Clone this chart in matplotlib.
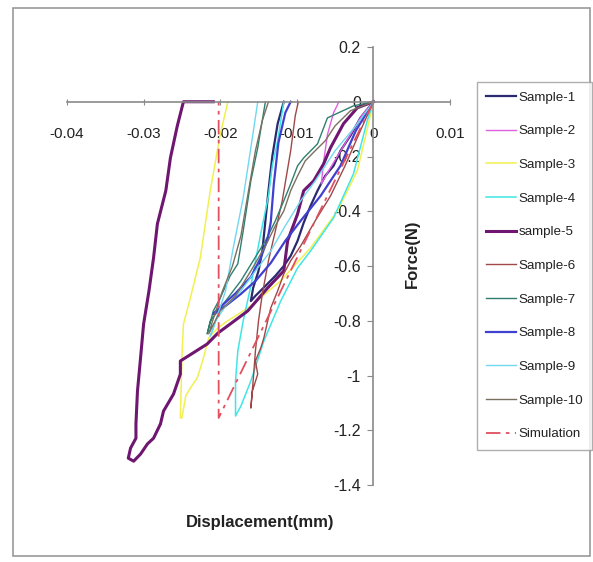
import matplotlib
matplotlib.use('Agg')
import matplotlib.pyplot as plt
from matplotlib.patches import Rectangle

plt.rcParams['font.family'] = ['Liberation Sans Narrow', 'Liberation Sans', 'DejaVu Sans']
plt.rcParams['axes.unicode_minus'] = False

# displacement (mm) / force (N) traces
s1_x = [0, -0.0017, -0.0030, -0.0043, -0.0052, -0.0063, -0.0073, -0.0082, -0.0091, -0.0099, -0.0108, -0.0117,
        -0.0128, -0.0141, -0.0154, -0.0160, -0.0157, -0.0150, -0.0145, -0.0141, -0.0137, -0.0132, -0.0125, -0.0117]
s1_y = [0, -0.059, -0.124, -0.179, -0.234, -0.271, -0.325, -0.380, -0.442, -0.508, -0.563, -0.600,
        -0.636, -0.673, -0.709, -0.728, -0.680, -0.618, -0.545, -0.435, -0.325, -0.200, -0.080, 0]

s2_x = [0, -0.0015, -0.0030, -0.0045, -0.0058, -0.0068, -0.0065, -0.0060, -0.0052, -0.0045]
s2_y = [0, -0.05, -0.12, -0.19, -0.25, -0.30, -0.22, -0.12, -0.04, 0]

s3_x = [0, -0.0008, -0.0021, -0.0047, -0.0082, -0.0121, -0.0160, -0.0190, -0.0203, -0.0215, -0.0223, -0.0230,
        -0.0239, -0.0245, -0.0250, -0.0252, -0.0250, -0.0248, -0.0239, -0.0226, -0.0213, -0.0200, -0.0190]
s3_y = [0, -0.10, -0.252, -0.399, -0.534, -0.654, -0.746, -0.800, -0.826, -0.863, -0.947, -1.009,
        -1.046, -1.075, -1.155, -1.155, -0.936, -0.812, -0.717, -0.570, -0.325, -0.12, 0]

s4_x = [0, -0.0008, -0.0026, -0.0052, -0.0082, -0.0099, -0.0121, -0.0143, -0.0160, -0.0173, -0.0180,
        -0.0180, -0.0177, -0.0170, -0.0160, -0.0154, -0.0145, -0.0137, -0.0132, -0.0125, -0.0117]
s4_y = [0, -0.069, -0.263, -0.424, -0.545, -0.607, -0.728, -0.874, -1.020, -1.112, -1.148,
        -1.020, -0.910, -0.801, -0.673, -0.581, -0.453, -0.344, -0.234, -0.143, 0]

s5_x = [0, -0.0021, -0.0039, -0.0056, -0.0065, -0.0078, -0.0091, -0.0099, -0.0112, -0.0117, -0.0138, -0.0164,
        -0.0187, -0.0203, -0.0217, -0.0252, -0.0252, -0.0261, -0.0274, -0.0278, -0.0287, -0.0295, -0.0304,
        -0.0313, -0.0320, -0.0317, -0.0310, -0.0310, -0.0308, -0.0304, -0.0300, -0.0293, -0.0287, -0.0282,
        -0.0271, -0.0265, -0.0256, -0.0248, -0.0209]
s5_y = [0, -0.022, -0.080, -0.168, -0.227, -0.289, -0.325, -0.410, -0.508, -0.618, -0.680, -0.764,
        -0.812, -0.845, -0.885, -0.947, -0.995, -1.068, -1.130, -1.177, -1.229, -1.250, -1.287,
        -1.313, -1.302, -1.265, -1.229, -1.177, -1.057, -0.936, -0.812, -0.691, -0.570, -0.446,
        -0.325, -0.205, -0.088, 0, 0]

s6_x = [0, -0.0017, -0.0037, -0.0056, -0.0076, -0.0095, -0.0108, -0.0117, -0.0125, -0.0134, -0.0138, -0.0143,
        -0.0147, -0.0154, -0.0151, -0.0158, -0.0160, -0.0157, -0.0154, -0.0150, -0.0145, -0.0137, -0.0128,
        -0.0119, -0.0108, -0.0102, -0.0098]
s6_y = [0, -0.106, -0.234, -0.344, -0.435, -0.527, -0.581, -0.629, -0.691, -0.753, -0.801, -0.863,
        -0.899, -0.947, -0.995, -1.057, -1.119, -1.020, -0.910, -0.801, -0.702, -0.581, -0.472,
        -0.362, -0.179, -0.051, 0]

s7_x = [0, -0.0026, -0.0060, -0.0073, -0.0091, -0.0099, -0.0108, -0.0117, -0.0128, -0.0141, -0.0157, -0.0173,
        -0.0193, -0.0213, -0.0217, -0.0209, -0.0200, -0.0187, -0.0177, -0.0170, -0.0160, -0.0151, -0.0141]
s7_y = [0, -0.015, -0.059, -0.154, -0.205, -0.234, -0.300, -0.362, -0.435, -0.508, -0.581, -0.654,
        -0.728, -0.801, -0.848, -0.764, -0.717, -0.636, -0.592, -0.472, -0.289, -0.168, 0]

s8_x = [0, -0.0023, -0.0043, -0.0069, -0.0095, -0.0115, -0.0134, -0.0154, -0.0173, -0.0193, -0.0209,
        -0.0200, -0.0180, -0.0160, -0.0147, -0.0138, -0.0134, -0.0130, -0.0124, -0.0115, -0.0108]
s8_y = [0, -0.106, -0.234, -0.344, -0.435, -0.508, -0.589, -0.655, -0.702, -0.746, -0.775,
        -0.750, -0.700, -0.640, -0.570, -0.500, -0.440, -0.300, -0.150, -0.040, 0]

s9_x = [0, -0.0023, -0.0050, -0.0076, -0.0095, -0.0115, -0.0134, -0.0154, -0.0173, -0.0193, -0.0206, -0.0213,
        -0.0210, -0.0203, -0.0193, -0.0183, -0.0170, -0.0160, -0.0151]
s9_y = [0, -0.088, -0.179, -0.289, -0.362, -0.453, -0.545, -0.618, -0.691, -0.746, -0.801, -0.856,
        -0.837, -0.775, -0.691, -0.534, -0.351, -0.168, 0]

s10_x = [0, -0.0030, -0.0050, -0.0063, -0.0076, -0.0089, -0.0099, -0.0108, -0.0117, -0.0128, -0.0141, -0.0160,
         -0.0180, -0.0200, -0.0215, -0.0210, -0.0197, -0.0184, -0.0173, -0.0163, -0.0154, -0.0145, -0.0137]
s10_y = [0, -0.033, -0.088, -0.143, -0.179, -0.216, -0.271, -0.325, -0.399, -0.453, -0.527, -0.618,
         -0.709, -0.764, -0.848, -0.801, -0.691, -0.600, -0.490, -0.325, -0.179, -0.069, 0]

sim_x = [0, -0.0202, -0.0202]
sim_y = [0, -1.155, 0]

labels = ['Sample-1', 'Sample-2', 'Sample-3', 'Sample-4', 'sample-5', 'Sample-6',
          'Sample-7', 'Sample-8', 'Sample-9', 'Sample-10', 'Simulation']
x_ticks = [-0.04, -0.03, -0.02, -0.01, 0, 0.01]
x_tick_labels = ['-0.04', '-0.03', '-0.02', '-0.01', '0', '0.01']
y_ticks = [0.2, 0, -0.2, -0.4, -0.6, -0.8, -1.0, -1.2, -1.4]
y_tick_labels = ['0.2', '0', '-0.2', '-0.4', '-0.6', '-0.8', '-1', '-1.2', '-1.4']

series = [(s1_x, s1_y, '#2a2a70', 1.6, '-'),
          (s2_x, s2_y, '#e060e0', 1.0, '-'),
          (s3_x, s3_y, '#f0f050', 1.1, '-'),
          (s4_x, s4_y, '#40e6e6', 1.1, '-'),
          (s5_x, s5_y, '#6e1670', 2.2, '-'),
          (s6_x, s6_y, '#a04848', 1.0, '-'),
          (s7_x, s7_y, '#2f7f70', 1.0, '-'),
          (s8_x, s8_y, '#4040d0', 1.6, '-'),
          (s9_x, s9_y, '#70d8f0', 1.0, '-'),
          (s10_x, s10_y, '#7a7060', 1.0, '-'),
          (sim_x, sim_y, '#e05060', 1.3, (0, (8, 3, 2, 3)))]

fig = plt.figure(figsize=(5.93, 5.62), dpi=100)
fig.patches.append(Rectangle((13 / 593, 1 - 556 / 562), 577 / 593, 548 / 562, transform=fig.transFigure,
                             fill=False, edgecolor='#9a9a9a', linewidth=1.2))

ax = fig.add_axes([67 / 593, 1 - 485 / 562, 383 / 593, 438 / 562])
ax.set_xlim(-0.04, 0.01)
ax.set_ylim(-1.4, 0.2)

handles = []
for (xs, ys, col, lw, ls), lab in zip(series, labels):
    h, = ax.plot(xs, ys, color=col, linewidth=lw, linestyle=ls, label=lab)
    handles.append(h)

for side in ['top', 'right']:
    ax.spines[side].set_visible(False)
ax.spines['left'].set_position(('data', 0))
ax.spines['bottom'].set_position(('data', 0))
for side in ['left', 'bottom']:
    ax.spines[side].set_color('#8a8a8a')
    ax.spines[side].set_linewidth(1.2)
ax.set_xticks(x_ticks)
ax.set_xticklabels(x_tick_labels)
ax.set_yticks(y_ticks)
ax.set_yticklabels(y_tick_labels)
ax.tick_params(axis='x', direction='inout', length=5, color='#8a8a8a', pad=16, labelsize=11, labelcolor='#222222')
ax.tick_params(axis='y', direction='out', length=4, color='#8a8a8a', pad=5, labelsize=11.5, labelcolor='#222222')
ax.patch.set_visible(False)

fig.text(260 / 593, 1 - 523 / 562, 'Displacement(mm)', ha='center', va='center', fontsize=12, fontweight='bold', color='#222222')
fig.text(412 / 593, 1 - 254 / 562, 'Force(N)', ha='center', va='center', rotation=90, fontsize=12, fontweight='bold', color='#222222')

leg = fig.legend(handles=handles, loc='upper left', bbox_to_anchor=(477 / 593, 1 - 82 / 562), borderaxespad=0,
                 fontsize=9.6, frameon=True, fancybox=False, borderpad=0.7, labelspacing=1.6,
                 handlelength=2.2, handletextpad=0.2)
leg.get_frame().set_edgecolor('#9a9a9a')
leg.get_frame().set_linewidth(1.0)
for t in leg.get_texts():
    t.set_color('#222222')

fig.savefig('out.png', dpi=100)
